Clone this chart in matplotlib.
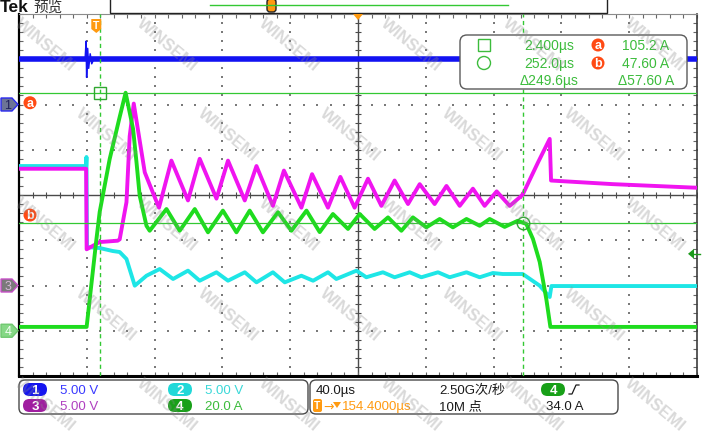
import numpy as np
import matplotlib
matplotlib.use("Agg")
import matplotlib.pyplot as plt
from matplotlib.patches import FancyBboxPatch, Polygon, Circle, Rectangle

plt.rcParams["font.family"] = ["Liberation Sans", "Noto Sans CJK SC", "DejaVu Sans"]

W, H = 724, 435

# scope settings
T_LEFT = -45.6            # us at left edge of the graticule
T_DIV = 40.0              # us / div
CH_SCALE = {1: 5.0, 2: 5.0, 3: 5.0, 4: 20.0}
CH_UNIT = {1: "V", 2: "V", 3: "V", 4: "A"}
CH_OFFSET = {1: 2.0, 2: -2.0, 3: -2.0, 4: -3.0}     # divisions
CH_COLOR = {1: "#1212f2", 2: "#1ee6e6", 3: "#f014f0", 4: "#1edc1e"}

# ---- traces (time in us) ----
ch1_level = 5.0                                  # steady level, V
ch1_span = [-45.6, 354.4]
ch1_t = [-6.6, -6.0, -5.7, -5.1, -4.5, -3.6, -2.7, -1.5]   # switching spike
ch1_v = [5.0, 7.0, 3.0, 6.2, 4.0, 5.6, 4.5, 5.0]

ch2_t = [-45.6, -6.0, -5.8, -5.5, 2.0, 9.7, 13.8, 17.8, 22.7, 29.6, 37.4, 45.3,
         54.1, 61.0, 70.9, 77.7, 87.6, 94.5, 104.2, 111.2, 121.0, 127.9, 136.7,
         141.6, 153.5, 159.3, 169.1, 176.0, 184.9, 191.8, 201.6, 208.5, 218.4,
         226.2, 234.0, 239.8, 251.6, 261.6, 267.5, 268.5, 354.4]
ch2_v = [13.2, 13.2, 14.2, 4.25, 4.14, 3.81, 3.70, 2.93, -0.02, 1.08, 1.82, 0.72,
         1.64, 0.53, 1.46, 0.53, 1.46, 0.35, 1.46, 0.35, 1.08, 0.53, 1.46,
         0.72, 1.64, 0.91, 1.46, 0.91, 1.46, 0.91, 1.46, 0.91, 1.46,
         0.91, 1.38, 1.27, 1.27, -0.02, -1.27, -0.06, -0.06]

ch3_t = [-45.6, -6.0, -5.7, 2.0, 12.6, 13.8, 17.8, 19.7, 22.1, 28.6, 33.3, 37.0,
         44.3, 54.1, 61.0, 70.9, 77.7, 87.6, 94.5, 104.2, 110.7, 121.0, 127.3,
         136.7, 144.0, 152.4, 160.3, 168.2, 176.0, 183.9, 190.8, 199.6, 206.6,
         214.4, 222.2, 229.1, 236.2, 243.9, 250.8, 251.7, 260.6, 267.5, 268.3,
         304.7, 354.4]
ch3_v = [12.9, 12.9, 4.0, 4.8, 4.95, 5.1, 9.2, 16.5, 20.1, 12.5, 10.3, 8.6,
         13.8, 9.4, 14.0, 9.6, 13.8, 9.4, 13.2, 8.8, 12.7, 8.6, 12.3,
         8.6, 12.0, 8.6, 11.8, 8.8, 11.6, 9.0, 11.2, 9.0, 11.0,
         8.8, 10.7, 8.8, 10.4, 8.8, 9.9, 10.1, 13.6, 16.2, 11.6,
         11.2, 10.8]

ch4_t = [-45.6, -5.7, 0.1, 2.0, 7.9, 13.8, 17.3, 21.7, 23.7, 25.6, 29.6, 31.5,
         41.4, 49.2, 58.1, 65.9, 74.7, 82.7, 90.5, 98.3, 107.2, 115.1, 124.0,
         131.8, 139.6, 148.5, 155.4, 164.2, 172.1, 180.0, 186.8, 194.7, 202.6,
         210.4, 218.4, 226.2, 232.1, 240.9, 248.6, 253.7, 257.6, 261.6, 265.5,
         267.9, 354.4]
ch4_a = [1.7, 1.7, 40.6, 52.5, 75.9, 94.5, 105.2, 89.2, 74.6, 59.7, 46.4, 44.2,
         53.8, 44.2, 53.8, 43.5, 53.1, 43.5, 53.1, 43.5, 52.4, 44.2, 53.1,
         43.6, 51.6, 45.0, 51.6, 45.0, 50.1, 44.2, 50.1, 45.7, 49.4,
         45.7, 49.4, 46.4, 49.4, 45.9, 48.6, 47.2, 40.6, 30.4, 14.0,
         1.7, 1.7]

# cursors / trigger
cursor_t = [2.4, 252.0]
cursor_a = 105.2
cursor_b = 47.60
trig_level = 34.0
readout_t = ["2.400\u00b5s", "252.0\u00b5s", "\u0394249.6\u00b5s"]
readout_a = ["105.2 A", "47.60 A", "\u039457.60 A"]

GREEN_CUR = "#33c833"
ORANGE = "#ff9a10"
RED_OR = "#ff4a14"


def div(ch, vals):
    return np.asarray(vals, dtype=float) / CH_SCALE[ch] + CH_OFFSET[ch]


fig = plt.figure(figsize=(W / 100, H / 100), dpi=100)
fig.patch.set_facecolor("white")

L, R, TOP, BOT = 19, 697, 15, 377
ax = fig.add_axes([L / W, 1 - BOT / H, (R - L) / W, (BOT - TOP) / H])
ax.set_xlim(T_LEFT, T_LEFT + 10 * T_DIV)
ax.set_ylim(-4, 4)
ax.set_facecolor("white")

# ── graticule ───────────────────────────────────────────────
x_minor = T_LEFT + T_DIV * np.arange(0, 10.01, 0.2)
y_minor = np.arange(-4, 4.01, 0.2)
x_center = T_LEFT + 5 * T_DIV
for k in range(1, 10):
    if k == 5:
        continue
    xm = T_LEFT + k * T_DIV
    ax.scatter(np.full_like(y_minor, xm), y_minor, s=1.6, marker="s",
               c="#7a7a7a", lw=0, zorder=1)
for j in range(-3, 4):
    if j == 0:
        continue
    ax.scatter(x_minor, np.full_like(x_minor, j), s=1.6, marker="s",
               c="#7a7a7a", lw=0, zorder=1)
ax.axhline(0, color="#4a4a4a", lw=1.0, zorder=1)
ax.axvline(x_center, color="#4a4a4a", lw=1.0, zorder=1)
ax.plot(x_minor, np.zeros_like(x_minor), ls="none", marker="|", ms=5,
        mew=0.8, color="#4a4a4a", zorder=1)
ax.plot(np.full_like(y_minor, x_center), y_minor, ls="none", marker="_", ms=5,
        mew=0.8, color="#4a4a4a", zorder=1)

ax.set_xticks(x_minor)
ax.set_yticks(y_minor)
ax.tick_params(which="both", direction="in", length=3, width=0.8,
               colors="#666666", top=True, right=True,
               labelbottom=False, labelleft=False)
ax.spines["left"].set(color="black", lw=1.6)
ax.spines["bottom"].set(color="black", lw=2.2)
ax.spines["top"].set(color="#8c8c8c", lw=0.8)
ax.spines["right"].set(color="#3c3c3c", lw=1.2)

# ── waveforms ───────────────────────────────────────────────
ax.plot(ch1_span, div(1, [ch1_level, ch1_level]), color=CH_COLOR[1], lw=4.0,
        solid_capstyle="butt", zorder=3)
ax.plot(ch1_t, div(1, ch1_v), color=CH_COLOR[1], lw=1.1, zorder=3)
ax.plot(ch2_t, div(2, ch2_v), color=CH_COLOR[2], lw=2.8, zorder=3)
ax.plot(ch3_t, div(3, ch3_v), color=CH_COLOR[3], lw=2.8, zorder=4)
ax.plot(ch4_t, div(4, ch4_a), color=CH_COLOR[4], lw=2.8, zorder=5)

# ── cursors ─────────────────────────────────────────────────
for ct in cursor_t:
    ax.axvline(ct, color=GREEN_CUR, lw=1.0, ls=(0, (3, 2.5)), zorder=6)
ax.axhline(div(4, cursor_a), color=GREEN_CUR, lw=0.9, zorder=6)
ax.axhline(div(4, cursor_b), color=GREEN_CUR, lw=0.9, zorder=6)
ax.plot(cursor_t[0], div(4, cursor_a), marker="s", ms=9, mfc="none",
        mec="#30a830", mew=1.0, zorder=7)
ax.plot(cursor_t[1], div(4, cursor_b), marker="o", ms=9, mfc="none",
        mec="#30a830", mew=1.0, zorder=7)


def to_px(t, d):
    X, Y = ax.transData.transform((t, d))
    return X, H - Y


# ── overlay in pixel coordinates ────────────────────────────
ov = fig.add_axes([0, 0, 1, 1], zorder=10)
ov.set_xlim(0, W)
ov.set_ylim(H, 0)
ov.axis("off")
ov.patch.set_alpha(0)

# header
ov.text(0, 8, "Tek", fontsize=12.5, fontweight="bold", color="#111111",
        ha="left", va="center")
ov.text(33, 8, "预览", fontsize=10.5, color="#333333", ha="left", va="center",
        family=["Noto Sans CJK SC", "DejaVu Sans"])
ov.add_patch(Rectangle((110, -2), 497, 16, fc="white", ec="#222222", lw=1.0))
ov.plot([210, 508], [6, 6], color=GREEN_CUR, lw=1.0)
ov.add_patch(FancyBboxPatch((267, 0), 9, 13, boxstyle="round,pad=0,rounding_size=3",
                            fc=ORANGE, ec="#222222", lw=1.0))

# horizontal position marker and trigger marker
xc, _ = to_px(x_center, 4)
ov.add_patch(Polygon([(xc - 5, 15), (xc + 5, 15), (xc, 21)], closed=True,
                     fc=ORANGE, ec="none"))
xt, _ = to_px(0, 4)
ov.add_patch(Polygon([(xt - 5, 20), (xt + 5, 20), (xt + 5, 30), (xt, 34),
                      (xt - 5, 30)], closed=True, fc=ORANGE, ec="none"))
ov.text(xt, 26, "T", fontsize=7.5, fontweight="bold", color="white",
        ha="center", va="center")

# trigger level marker (right edge)
_, ytl = to_px(0, div(4, trig_level))
ov.add_patch(Polygon([(688, ytl), (694, ytl - 5), (694, ytl + 5)], closed=True,
                     fc="#1c9a1c", ec="none"))
ov.plot([694, 700], [ytl, ytl], color="#1c9a1c", lw=1.0)


# channel ground markers on the left
def ch_marker(y, fc, ec, tc, label):
    ov.add_patch(Polygon([(1, y - 6.5), (12, y - 6.5), (18, y), (12, y + 6.5),
                          (1, y + 6.5)], closed=True, fc=fc, ec=ec, lw=1.0))
    ov.text(8, y + 0.5, label, fontsize=9, color=tc, ha="center", va="center")


ch_marker(to_px(0, CH_OFFSET[1])[1], "#6c7496", "#2a2af0", "#20205a", "1")
ch_marker(to_px(0, CH_OFFSET[3])[1], "#7a7a7a", "#c850c8", "#d8b8d8", "3")
ch_marker(to_px(0, CH_OFFSET[4])[1], "#86d886", "#70c870", "#f4fff4", "4")


def badge(x, y, label, r=6.5):
    ov.add_patch(Circle((x, y), r, fc=RED_OR, ec="none"))
    ov.text(x, y + 0.3, label, fontsize=9, fontweight="bold", color="white",
            ha="center", va="center")


_, ya = to_px(0, div(4, cursor_a))
_, yb = to_px(0, div(4, cursor_b))
badge(30, ya + 10, "a")
badge(30, yb - 8, "b")

# cursor readout box
ov.add_patch(FancyBboxPatch((460, 36), 227, 54,
                            boxstyle="round,pad=0,rounding_size=7",
                            fc="white", ec="#5a5a5a", lw=1.0))
TXT_G = "#3cbc3c"
ov.add_patch(Rectangle((478, 40), 12, 12, fc="none", ec=TXT_G, lw=1.0))
ov.add_patch(Circle((484, 64), 6.5, fc="none", ec=TXT_G, lw=1.0))
rows_y = [46, 64, 81]
for y, s in zip(rows_y, readout_t):
    ov.text(579 if s.startswith("\u0394") else 574, y, s, fontsize=10,
            color=TXT_G, ha="right", va="center")
for y, s in zip(rows_y, readout_a):
    ov.text(669 if not s.startswith("\u0394") else 674, y, s, fontsize=10,
            color=TXT_G, ha="right", va="center")
badge(598, 46, "a")
badge(598, 64, "b")

# bottom status boxes
ov.add_patch(FancyBboxPatch((19, 381), 289, 34, boxstyle="round,pad=0,rounding_size=6",
                            fc="white", ec="#4a4a4a", lw=1.0))
ov.add_patch(FancyBboxPatch((310, 381), 308, 34, boxstyle="round,pad=0,rounding_size=6",
                            fc="white", ec="#4a4a4a", lw=1.0))


def pill(x, y, color, label):
    ov.add_patch(FancyBboxPatch((x, y), 24, 13, boxstyle="round,pad=0,rounding_size=6.5",
                                fc=color, ec="none"))
    ov.text(x + 12, y + 7, label, fontsize=9.5, fontweight="bold", color="white",
            ha="center", va="center")


pill(23, 384, "#1414f0", "1")
pill(23, 400, "#a01ea0", "3")
pill(168, 384, "#22d8d8", "2")
pill(168, 400, "#18a018", "4")
ch_txt = {1: "#3a3aff", 2: "#3ad8d8", 3: "#b040c0", 4: "#3cbc3c"}
for ch, (x, y) in {1: (60, 391), 3: (60, 407), 2: (205, 391), 4: (205, 407)}.items():
    val = CH_SCALE[ch]
    s = f"{val:.2f} {CH_UNIT[ch]}" if val < 10 else f"{val:.1f} {CH_UNIT[ch]}"
    ov.text(x, y, s, fontsize=9.5, color=ch_txt[ch], ha="left", va="center")

ov.text(316, 391, f"{T_DIV:.1f}\u00b5s", fontsize=9.5, color="#1a1a1a",
        ha="left", va="center")
ov.add_patch(FancyBboxPatch((313, 400), 9, 13, boxstyle="round,pad=0,rounding_size=2",
                            fc=ORANGE, ec="none"))
ov.text(317.5, 406.5, "T", fontsize=7.5, fontweight="bold", color="white",
        ha="center", va="center")
ov.text(323, 407, "\u2192", fontsize=9, color=ORANGE, ha="left", va="center",
        family=["DejaVu Sans"])
ov.add_patch(Polygon([(333, 403), (341, 403), (337, 409)], closed=True,
                     fc=ORANGE, ec="none"))
ov.text(342, 407, f"{x_center:.4f}\u00b5s", fontsize=9.5, color=ORANGE,
        ha="left", va="center")
ov.text(439, 391, "2.50G次/秒", fontsize=9.5, color="#1a1a1a", ha="left", va="center")
ov.text(439, 407, "10M 点", fontsize=9.5, color="#1a1a1a", ha="left", va="center")
pill(541, 384, "#18a018", "4")
ov.plot([569, 572, 576, 579], [395, 395, 386, 386], color="#1a1a1a", lw=0.9)
ov.text(546, 407, f"{trig_level:.1f} A", fontsize=9.5, color="#1a1a1a",
        ha="left", va="center")

# watermark, kept inside the frame
for j in range(5):
    for i in range(6):
        cx = 45 + 122 * i + (j % 2) * 61
        cy = 45 + 90 * j
        if cx > 685:
            continue
        ov.text(cx, cy, "WINSEMI", rotation=-40, rotation_mode="anchor",
                ha="center", va="center", fontsize=12, fontweight="bold",
                color="#8a8a8a", alpha=0.32, zorder=50)

fig.savefig("out.png", dpi=100)
plt.close(fig)
